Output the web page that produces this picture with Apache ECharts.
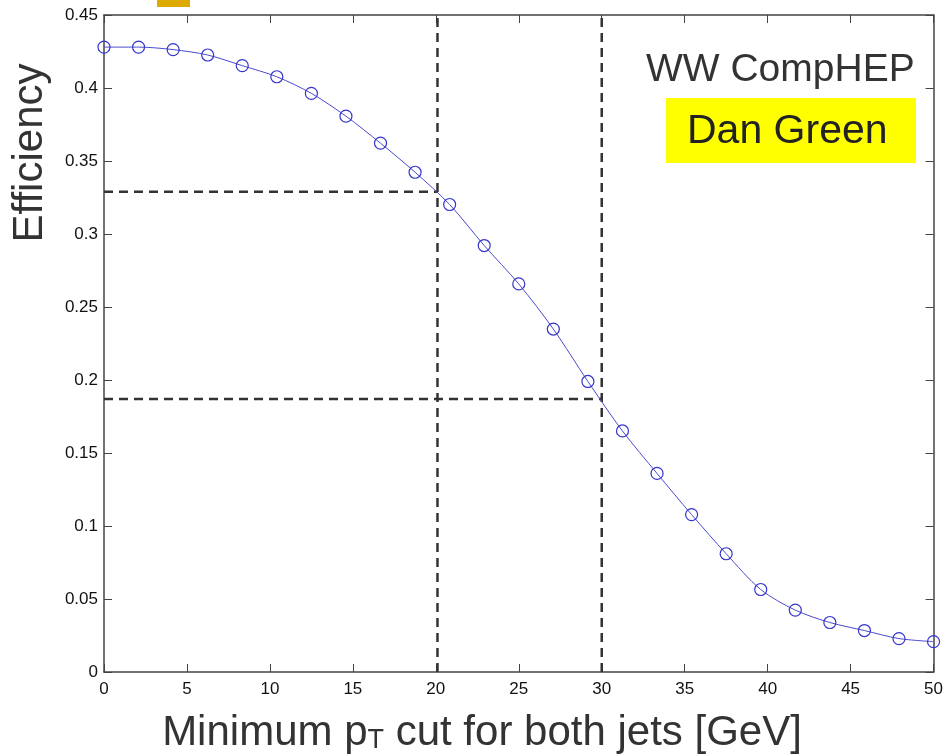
<!DOCTYPE html>
<html><head><meta charset="utf-8">
<script src="https://cdn.jsdelivr.net/npm/echarts@6/dist/echarts.min.js"></script>
<style>html,body{margin:0;padding:0;background:#fff}#c{width:946px;height:756px}</style>
</head><body><div id="c"></div>
<script>
// Data
var ptCut = [];
var nPts = 25;
var efficiency = [0.428, 0.428, 0.4263, 0.4226, 0.4153, 0.4077, 0.3963, 0.3807, 0.3622, 0.3423,
                  0.3202, 0.2921, 0.2658, 0.2349, 0.1990, 0.1651, 0.1360, 0.1078, 0.0810, 0.0565,
                  0.0424, 0.0339, 0.0284, 0.0229, 0.0208];
var ptStep = 50 / 24;
for (var i = 0; i < nPts; i++) ptCut.push(i * ptStep);
var cutX = [20.1, 30.0];
var cutY = [0.329, 0.187];
var xTicks = [0, 5, 10, 15, 20, 25, 30, 35, 40, 45, 50];
var yTicks = ['0', '0.05', '0.1', '0.15', '0.2', '0.25', '0.3', '0.35', '0.4', '0.45'];

var chart = echarts.init(document.getElementById('c'));
var mainData = ptCut.map(function (x, i) { return [x, efficiency[i]]; });
var dashStyle = { color: '#333', width: 2.5, type: [9, 6] };
var series = [];
cutX.forEach(function (cx, k) {
  series.push({ type: 'line', data: [[cx, 0], [cx, 0.45]], showSymbol: false, symbol: 'none',
    lineStyle: dashStyle, silent: true, z: 1 });
  series.push({ type: 'line', data: [[0, cutY[k]], [cx, cutY[k]]], showSymbol: false, symbol: 'none',
    lineStyle: dashStyle, silent: true, z: 1 });
});
series.push({
  type: 'line', data: mainData, smooth: 0.3, symbol: 'circle', symbolSize: 12, showAllSymbol: true,
  lineStyle: { color: '#4a4ad0', width: 1 },
  itemStyle: { color: 'rgba(255,255,255,0)', borderColor: '#3535cc', borderWidth: 1.2 },
  z: 3
});

var FF = 'Liberation Sans, Arial, sans-serif';
var tickFont = { fontFamily: FF, fontSize: 17, color: '#111' };
function axisCommon(extra) {
  return Object.assign({
    axisLine: { show: true, onZero: false, lineStyle: { color: '#444', width: 1.5 } },
    axisTick: { show: true, inside: true, length: 8, lineStyle: { color: '#444' } },
    splitLine: { show: false }
  }, extra);
}
chart.setOption({
  animation: false,
  backgroundColor: '#fff',
  grid: { left: 104, right: 9, top: 15, bottom: 84, containLabel: false },
  xAxis: [
    axisCommon({ type: 'value', min: 0, max: 50, interval: 5, position: 'bottom',
      axisLabel: Object.assign({ margin: 9, formatter: function (v) { return String(v); } }, tickFont) }),
    axisCommon({ type: 'value', min: 0, max: 50, interval: 5, position: 'top', axisLabel: { show: false } })
  ],
  yAxis: [
    axisCommon({ type: 'value', min: 0, max: 0.45, interval: 0.05, position: 'left',
      axisLabel: Object.assign({ margin: 6, formatter: function (v) {
        var idx = Math.round(v / 0.05); return yTicks[idx]; } }, tickFont) }),
    axisCommon({ type: 'value', min: 0, max: 0.45, interval: 0.05, position: 'right', axisLabel: { show: false } })
  ],
  series: series,
  graphic: [
    { type: 'rect', left: 157, top: 0, shape: { width: 33, height: 7 }, style: { fill: '#dcaa00' } },
    { type: 'text', x: 646, y: 70, style: { text: 'WW CompHEP', fontFamily: FF,
        fontSize: 39, fill: '#333', verticalAlign: 'middle' } },
    { type: 'rect', left: 666, top: 98, shape: { width: 250, height: 65 }, style: { fill: '#ffff00' } },
    { type: 'text', x: 687, y: 132, style: { text: 'Dan Green', fontFamily: FF,
        fontSize: 41, fill: '#222', verticalAlign: 'middle' } },
    { type: 'text', x: 30, y: 153, rotation: Math.PI / 2,
      style: { text: 'Efficiency', fontFamily: FF, fontSize: 42, fill: '#333',
        align: 'center', verticalAlign: 'middle' } },
    { type: 'text', x: 482, y: 733,
      style: { text: '{n|Minimum p}{s|T}{n| cut for both jets [GeV]}', align: 'center', verticalAlign: 'middle',
        rich: {
          n: { fontFamily: FF, fontSize: 42, fill: '#333', color: '#333' },
          s: { fontFamily: FF, fontSize: 27, fill: '#333', color: '#333', padding: [15, 0, 0, 0] }
        } } }
  ]
});
</script></body></html>
